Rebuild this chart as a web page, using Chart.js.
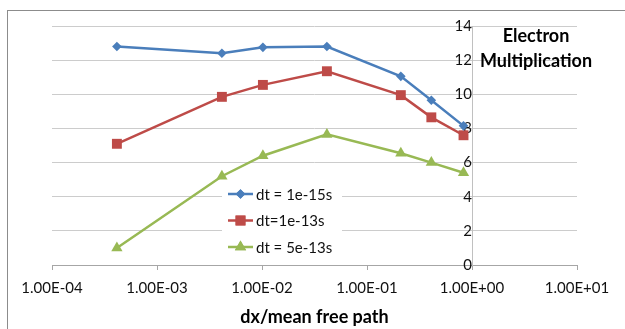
<!DOCTYPE html>
<html>
<head>
<meta charset="utf-8">
<script src="https://cdn.jsdelivr.net/npm/chart.js@4"></script>
<style>
  html, body { margin: 0; padding: 0; background: #fff; overflow: hidden; }
  #wrap { position: relative; width: 625px; height: 329px; overflow: hidden; }
  #frame { position: absolute; left: 7px; top: 10px; width: 700px; height: 400px; border: 1px solid #8c8c8c; pointer-events: none; }
  #title { position: absolute; left: 466px; width: 140px; top: 23px; text-align: center;
           font: bold 18px Lato, sans-serif; line-height: 25px; color: #000; }
  canvas { position: absolute; left: 0; top: 0; }
</style>
</head>
<body>
<div id="wrap">
  <div id="frame"></div>
  <canvas id="c" width="625" height="329"></canvas>
  <div id="title">Electron<br>Multiplication</div>
</div>
<script>
const xValues = [4.15e-4, 4.15e-3, 1.02e-2, 4.15e-2, 0.21, 0.41, 0.83];
const seriesNames = ['dt = 1e-15s', 'dt=1e-13s', 'dt = 5e-13s'];
const series1 = [12.8, 12.4, 12.75, 12.8, 11.05, 9.65, 8.15];
const series2 = [7.1, 9.85, 10.55, 11.35, 9.95, 8.65, 7.6];
const series3 = [1.0, 5.2, 6.4, 7.65, 6.55, 6.0, 5.4];
const xTickValues = [1e-4, 1e-3, 1e-2, 1e-1, 1e0, 1e1];
const xTickLabels = ['1.00E-04', '1.00E-03', '1.00E-02', '1.00E-01', '1.00E+00', '1.00E+01'];
const yTickValues = [0, 2, 4, 6, 8, 10, 12, 14];
const xTitle = 'dx/mean free path';

const colors = ['#4A7EBB', '#BE4B48', '#98B954'];
const shapes = ['rectRot', 'rect', 'triangle'];
const radii = [4.8, 7, 6.5];

function pts(vals) { return vals.map((v, i) => ({ x: xValues[i], y: v })); }

const datasets = [series1, series2, series3].map((s, i) => ({
  label: seriesNames[i],
  data: pts(s),
  showLine: true,
  borderColor: colors[i],
  backgroundColor: colors[i],
  borderWidth: 2.5,
  pointStyle: shapes[i],
  pointRadius: radii[i],
  pointBorderWidth: 0,
  pointBackgroundColor: colors[i],
  tension: 0
}));

const legendPlugin = {
  id: 'insideLegend',
  afterDraw(chart) {
    const ctx = chart.ctx;
    ctx.save();
    ctx.fillStyle = '#ffffff';
    ctx.fillRect(222, 181, 120, 78);
    chart.data.datasets.forEach((ds, i) => {
      const y = 194 + i * 26.5;
      ctx.strokeStyle = ds.borderColor;
      ctx.lineWidth = ds.borderWidth;
      ctx.beginPath();
      ctx.moveTo(228, y);
      ctx.lineTo(253, y);
      ctx.stroke();
      ctx.fillStyle = ds.backgroundColor;
      Chart.helpers.drawPoint(ctx, { pointStyle: ds.pointStyle, radius: ds.pointRadius, borderWidth: 0 }, 240.5, y);
      ctx.fill();
      ctx.fillStyle = '#111';
      ctx.font = '15px Lato, sans-serif';
      ctx.textBaseline = 'middle';
      ctx.textAlign = 'left';
      ctx.fillText(ds.label, 256, y + 1);
    });
    ctx.restore();
  }
};

new Chart(document.getElementById('c'), {
  type: 'scatter',
  data: { datasets },
  options: {
    responsive: false,
    animation: false,
    layout: { padding: { left: 52, right: 48, top: 26, bottom: 0 } },
    plugins: { legend: { display: false }, tooltip: { enabled: false } },
    scales: {
      x: {
        type: 'logarithmic',
        position: 'bottom',
        min: 1e-4,
        max: 10,
        afterBuildTicks: (scale) => { scale.ticks = xTickValues.map(v => ({ value: v, major: true })); },
        afterFit: (scale) => { scale.height = 64; },
        ticks: {
          autoSkip: false,
          maxRotation: 0,
          padding: 9,
          color: '#111',
          font: { family: 'Lato, sans-serif', size: 15 },
          callback: (v) => { const k = xTickValues.indexOf(v); return k >= 0 ? xTickLabels[k] : ''; }
        },
        grid: { drawOnChartArea: false, drawTicks: true, tickLength: 5, color: '#a6a6a6' },
        border: { display: true, color: '#a6a6a6', width: 1 },
        title: {
          display: true,
          text: xTitle,
          color: '#000',
          font: { family: 'Lato, sans-serif', size: 18, weight: 'bold' },
          padding: { top: 0, bottom: 1 }
        }
      },
      y: {
        type: 'linear',
        position: { x: 1 },
        min: 0,
        max: 14,
        afterBuildTicks: (scale) => { scale.ticks = yTickValues.map(v => ({ value: v })); },
        ticks: {
          padding: 17,
          color: '#111',
          font: { family: 'Lato, sans-serif', size: 15 }
        },
        grid: { drawTicks: false, color: '#cccccc' },
        border: { display: true, color: '#c0c0c0', width: 1 }
      }
    }
  },
  plugins: [legendPlugin]
});
</script>
</body>
</html>
